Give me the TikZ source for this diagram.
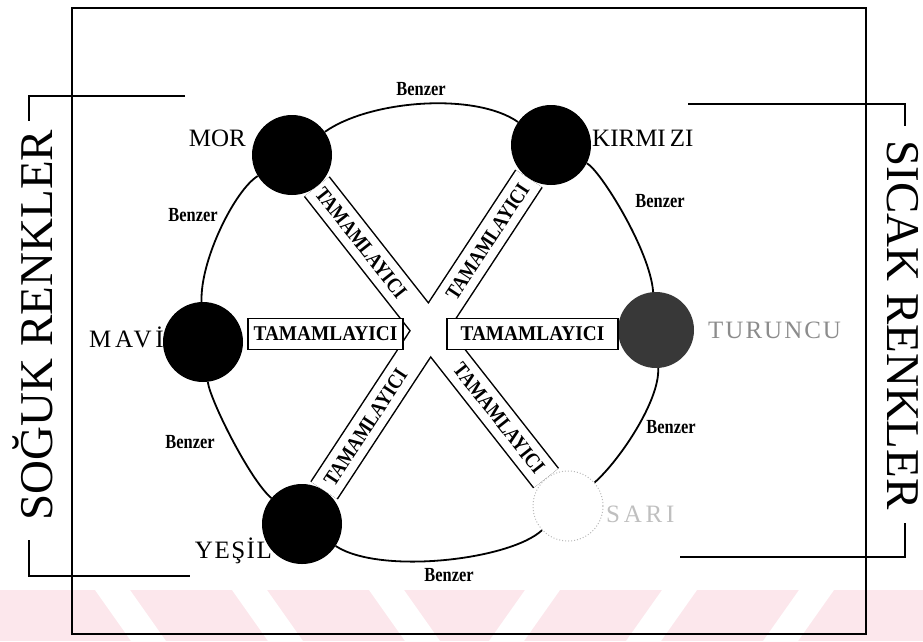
\documentclass[tikz,border=0pt]{standalone}
\usepackage{fontspec}
\setmainfont{Liberation Serif}
\definecolor{wm}{RGB}{252,231,236}
\begin{document}
\begin{tikzpicture}[x=1pt,y=-1pt,
  ln/.style={line width=1.8pt},
  dot/.style={circle,fill=black,minimum size=80pt,inner sep=0pt},
  lbl/.style={inner sep=0pt,font=\fontsize{25}{25}\selectfont},
  benz/.style={inner sep=0pt,font=\bfseries\fontsize{20}{20}\selectfont\addfontfeatures{FakeStretch=0.82}},
  tam/.style={inner sep=0pt,font=\bfseries\fontsize{21}{21}\selectfont\addfontfeatures{FakeStretch=0.86}},
  tambox/.style={draw,line width=1.6pt,fill=white,minimum height=31pt,inner sep=0pt,font=\bfseries\fontsize{21}{21}\selectfont\addfontfeatures{FakeStretch=0.92}},
  side/.style={inner sep=0pt,font=\fontsize{47}{47}\selectfont},
  ring/.style={line width=1.8pt}
]
\useasboundingbox (0,0) rectangle (923,641);
% watermark stripes
\fill[wm] (0,590) rectangle (923,641);
\foreach \a in {95,232,369} \fill[white] (\a,590) -- (\a+35,590) -- (\a+71,641) -- (\a+36,641) -- cycle;
\foreach \a in {525,662,799} \fill[white] (\a,590) -- (\a+35,590) -- (\a-1,641) -- (\a-36,641) -- cycle;
% frame
\draw[ln] (72,8) rectangle (866,634);
% side labels and brackets
\node[side,rotate=90] (soguk) at (33,325) {SOĞUK RENKLER};
\node[side,rotate=-90] (sicak) at (903,325) {SICAK RENKLER};
\draw[ln] (185,96) -- (29,96) -- (29,121);
\draw[ln] (29,540) -- (29,576) -- (190,576);
\draw[ln] (688,104) -- (905,104) -- (905,126);
\draw[ln] (905,523) -- (905,557) -- (680,557);
% colour circles
\node[dot] (mor) at (292,155) {};
\node[dot] (kir) at (551,145) {};
\node[dot] (mavi) at (203,342) {};
\node[dot,fill=black!78,minimum size=76pt] (tur) at (656,330) {};
\node[dot] (yes) at (302,524) {};
\node[circle,draw=black!28,dotted,line width=1pt,minimum size=70pt,inner sep=0pt] (sari) at (568,506) {};
% ring
\draw[ring] (mor) .. controls (370,100) and (475,92) .. (kir);
\draw[ring] (kir) .. controls (600,170) and (650,250) .. (tur);
\draw[ring] (tur) .. controls (660,400) and (620,460) .. (sari);
\draw[ring] (sari) .. controls (510,560) and (380,575) .. (yes);
\draw[ring] (yes) .. controls (250,480) and (210,400) .. (mavi);
\draw[ring] (mavi) .. controls (200,260) and (235,190) .. (mor);
% diagonal bands
\draw[line width=33pt] (mor) -- (sari) (kir) -- (yes);
\draw[white,line width=30pt] (mor) -- (sari) (kir) -- (yes);
\path (mor.center) -- (sari.center)
  node[tam,sloped,pos=0.25] (t1) {TAMAMLAYICI}
  node[tam,sloped,pos=0.75] (t2) {TAMAMLAYICI};
\path (kir.center) -- (yes.center)
  node[tam,sloped,pos=0.255] (t3) {TAMAMLAYICI}
  node[tam,sloped,pos=0.745] (t4) {TAMAMLAYICI};
% horizontal boxes
\node[tambox,minimum width=155pt] (h1) at (325.5,334) {TAMAMLAYICI};
\node[tambox,minimum width=171pt] (h2) at (532.5,334) {TAMAMLAYICI};
% colour names
\node[lbl,anchor=east] (morl) at (246,138) {MOR};
\node[lbl,anchor=west] (kirl) at (592,138) {KIRMI\hspace{4pt}ZI};
\node[lbl,anchor=east] (mavil) at (164,337) {\addfontfeatures{LetterSpace=15}MAVİ};
\node[lbl,anchor=west,text=black!45] (turl) at (708,330) {\addfontfeatures{LetterSpace=8}TURUNCU};
\node[lbl,anchor=east] (yesl) at (272,551) {\addfontfeatures{LetterSpace=6}YEŞİL};
\node[lbl,anchor=west,text=black!25] (saril) at (606,514) {\addfontfeatures{LetterSpace=15}SARI};
% Benzer labels
\node[benz] (b1) at (421,89) {Benzer};
\node[benz] (b2) at (193,215) {Benzer};
\node[benz] (b3) at (660,201) {Benzer};
\node[benz] (b4) at (190,442) {Benzer};
\node[benz] (b5) at (671,427) {Benzer};
\node[benz] (b6) at (449,575) {Benzer};
\end{tikzpicture}
\end{document}
